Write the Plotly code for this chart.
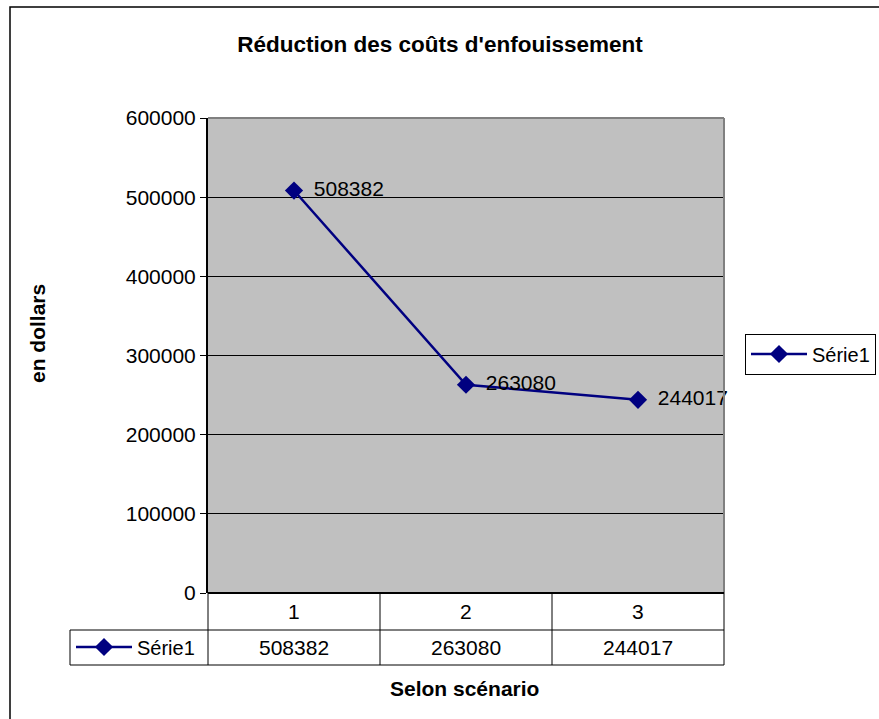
import plotly.graph_objects as go

# ---- data ----
categories = [1, 2, 3]
serie1 = [508382, 263080, 244017]
series_name = "Série1"
title_text = "Réduction des coûts d'enfouissement"
x_title = "Selon scénario"
y_title = "en dollars"
y_ticks = [0, 100000, 200000, 300000, 400000, 500000, 600000]

FONT = "Arial, 'Liberation Sans', sans-serif"
NAVY = "#000080"
FS = 21

W, H = 879, 719
L, R, T, B = 208, 724, 118, 593  # plot area in px
pw, ph = R - L, B - T


def px_x(x):
    return (x - L) / pw


def px_y(y):
    return (B - y) / ph


fig = go.Figure()
fig.add_trace(go.Scatter(
    x=categories, y=serie1, name=series_name,
    mode="lines+markers+text",
    line=dict(color=NAVY, width=2.5),
    marker=dict(symbol="diamond", size=14, color=NAVY),
    text=["\u00a0\u2009" + str(v) for v in serie1],
    textposition="middle right",
    textfont=dict(size=FS, color="black", family=FONT),
    cliponaxis=False,
    legend="legend",
))
# duplicate key for the data table row
fig.add_trace(go.Scatter(
    x=[None], y=[None], name=series_name,
    mode="lines+markers",
    line=dict(color=NAVY, width=2.5),
    marker=dict(symbol="diamond", size=14, color=NAVY),
    legend="legend2", showlegend=True,
))

shapes = []
# outer chart frame
shapes.append(dict(type="rect", xref="paper", yref="paper",
                   x0=px_x(10), x1=px_x(W + 20), y0=px_y(H + 20), y1=px_y(7),
                   line=dict(color="black", width=1.5)))
# plot area top/right border (gray)
shapes.append(dict(type="line", xref="paper", yref="paper", x0=0, x1=1, y0=1, y1=1,
                   line=dict(color="#808080", width=2)))
shapes.append(dict(type="line", xref="paper", yref="paper", x0=1, x1=1, y0=0, y1=1,
                   line=dict(color="#808080", width=2)))

# data table lines
n = len(categories)
row1_bot = px_y(630)
row2_bot = px_y(665)
left_cell = px_x(70)
shapes.append(dict(type="line", xref="paper", yref="paper", x0=left_cell, x1=1,
                   y0=row1_bot, y1=row1_bot, line=dict(color="black", width=1)))
shapes.append(dict(type="line", xref="paper", yref="paper", x0=left_cell, x1=1,
                   y0=row2_bot, y1=row2_bot, line=dict(color="black", width=1)))
shapes.append(dict(type="line", xref="paper", yref="paper", x0=left_cell, x1=left_cell,
                   y0=row2_bot, y1=row1_bot, line=dict(color="black", width=1)))
for i in range(n + 1):
    xp = i / n
    shapes.append(dict(type="line", xref="paper", yref="paper", x0=xp, x1=xp,
                       y0=row2_bot, y1=0, line=dict(color="black", width=1)))

annotations = []
for c, v in zip(categories, serie1):
    annotations.append(dict(x=c, xref="x", y=px_y(611), yref="paper", text=str(c),
                            xanchor="center", yanchor="middle",
                            showarrow=False, font=dict(size=FS, family=FONT, color="black")))
    annotations.append(dict(x=c, xref="x", y=px_y(647), yref="paper", text=str(v),
                            xanchor="center", yanchor="middle",
                            showarrow=False, font=dict(size=FS, family=FONT, color="black")))
annotations.append(dict(x=px_x(464), xref="paper", y=px_y(688), yref="paper", text=f"<b>{x_title}</b>",
                        xanchor="center", yanchor="middle",
                        showarrow=False, font=dict(size=FS, family=FONT, color="black")))
annotations.append(dict(x=px_x(37), xref="paper", y=px_y(334), yref="paper", text=f"<b>{y_title}</b>",
                        xanchor="center", yanchor="middle",
                        textangle=-90, showarrow=False, font=dict(size=FS, family=FONT, color="black")))

fig.update_layout(
    width=W, height=H,
    margin=dict(l=L, r=W - R, t=T, b=H - B, pad=0, autoexpand=False),
    paper_bgcolor="white",
    plot_bgcolor="#C0C0C0",
    font=dict(family=FONT, size=FS, color="black"),
    title=dict(text=f"<b>{title_text}</b>", x=440 / W, xref="container", xanchor="center",
               y=1 - 44 / H, yanchor="middle", font=dict(size=22.5, family=FONT, color="black")),
    xaxis=dict(range=[0.5, 3.5], showticklabels=False, showgrid=False, zeroline=False,
               showline=False, ticks="", fixedrange=True),
    yaxis=dict(range=[0, 600000], tickvals=y_ticks, ticktext=[str(t) for t in y_ticks],
               showgrid=True, gridcolor="black", gridwidth=1, zeroline=False,
               showline=True, linecolor="black", linewidth=2,
               ticks="outside", ticklen=6, tickcolor="black", tickwidth=1,
               tickfont=dict(size=FS, family=FONT, color="black")),
    legend=dict(x=px_x(745), y=px_y(354), xanchor="left", yanchor="middle",
                bgcolor="white", bordercolor="black", borderwidth=1,
                itemwidth=56, font=dict(size=20, family=FONT, color="black"),
                tracegroupgap=0),
    legend2=dict(x=px_x(71), y=px_y(647), xanchor="left", yanchor="middle",
                 bgcolor="rgba(0,0,0,0)", borderwidth=0,
                 itemwidth=56, font=dict(size=20, family=FONT, color="black")),
    shapes=shapes,
    annotations=annotations,
    showlegend=True,
)
# bottom axis line
fig.add_shape(type="line", xref="paper", yref="paper", x0=0, x1=1, y0=0, y1=0,
              line=dict(color="black", width=2))

fig.write_html("out.html", config={"displayModeBar": False},
               post_script="document.body.style.margin='0';")
